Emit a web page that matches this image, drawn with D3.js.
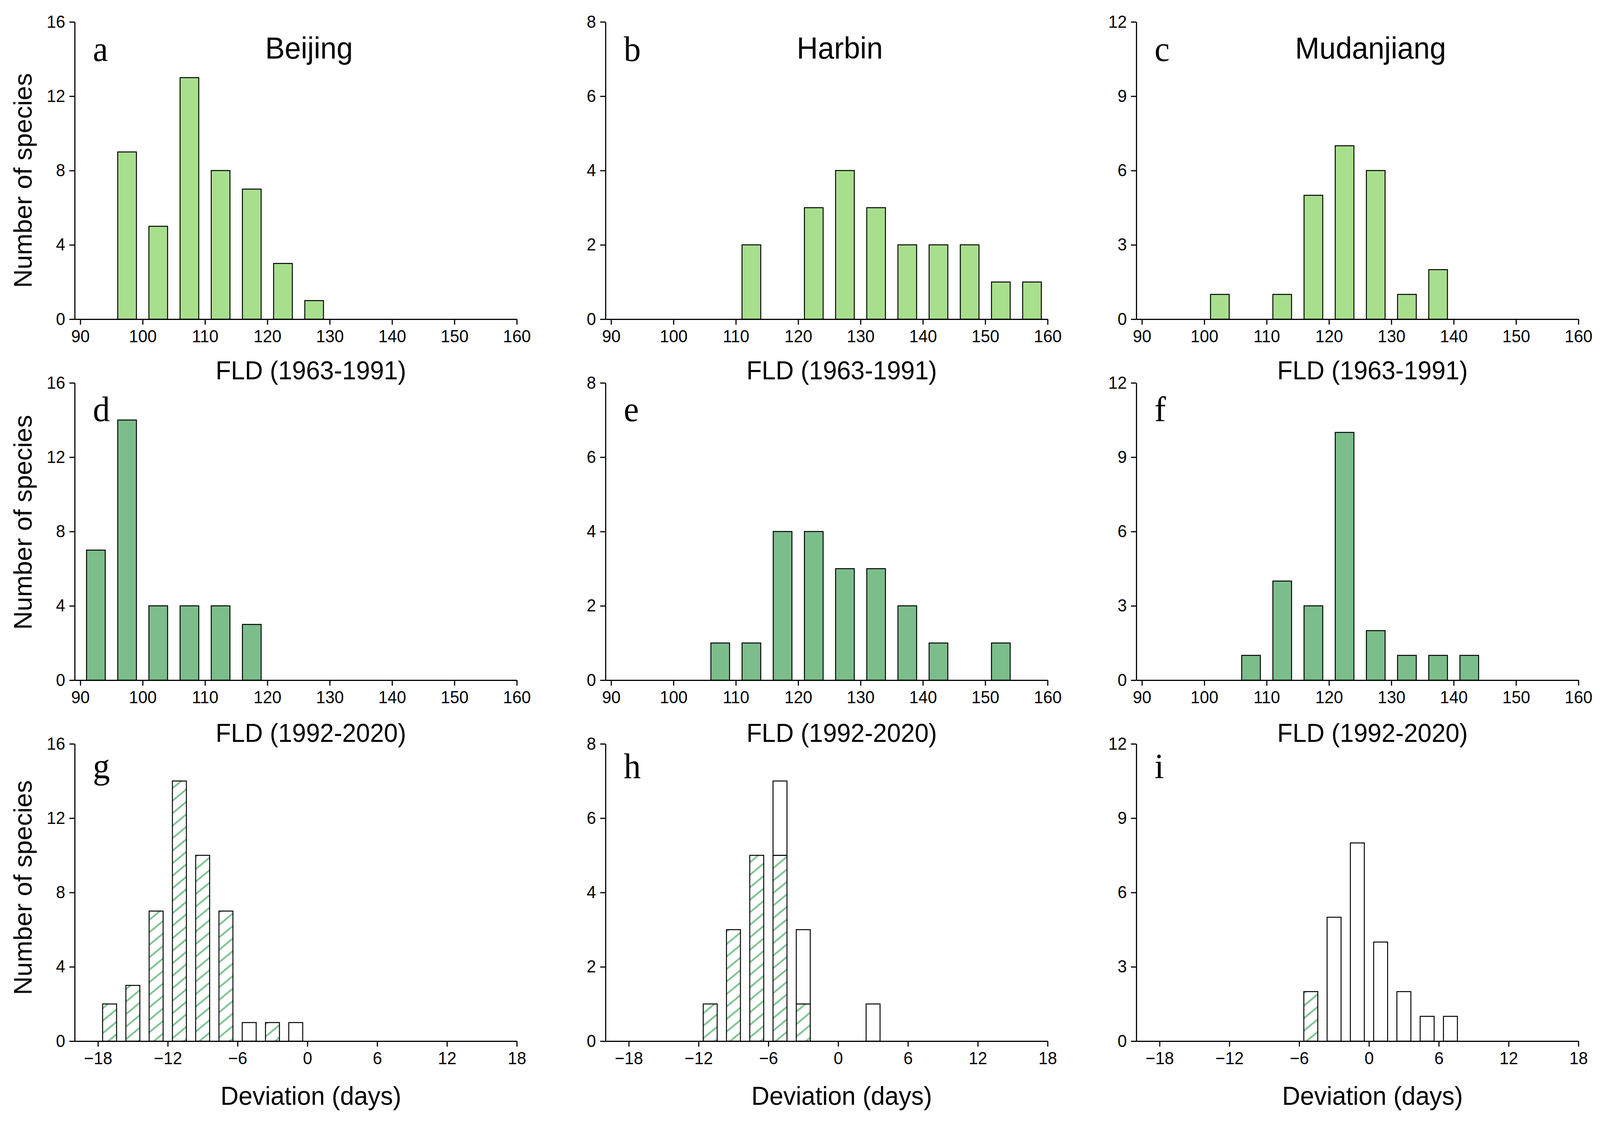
<!DOCTYPE html>
<html>
<head>
<meta charset="utf-8">
<script src="https://cdn.jsdelivr.net/npm/d3@7"></script>
<style>
  html, body { margin: 0; padding: 0; background: #fff; overflow: hidden; }
  #chart svg { display: block; }
  text { font-family: "Liberation Sans", Arial, sans-serif; fill: #000; }
  .letter { font-family: "Liberation Serif", "Times New Roman", serif; }
  .domain, .tick line { stroke: #000; stroke-width: 3; }
</style>
</head>
<body>
<div id="chart"></div>
<script>
// ---- data ----
var cities = ["Beijing", "Harbin", "Mudanjiang"];
var panelLetters = [["a", "b", "c"], ["d", "e", "f"], ["g", "h", "i"]];
var rowTitles = ["FLD (1963-1991)", "FLD (1992-2020)", "Deviation (days)"];

var fldTicks = [90, 100, 110, 120, 130, 140, 150, 160];
var devTicks = [-18, -12, -6, 0, 6, 12, 18];
var yTicks = [[0, 4, 8, 12, 16], [0, 2, 4, 6, 8], [0, 3, 6, 9, 12]];

// lower edges of the 5-day FLD bins
var fldBins = [90, 95, 100, 105, 110, 115, 120, 125, 130, 135, 140, 145, 150, 155];
// lower edges of the 2-day deviation bins
var devBins = [-18, -16, -14, -12, -10, -8, -6, -4, -2, 0, 2, 4, 6, 8, 10, 12, 14, 16];

// FLD 1963-1991
var early = [
    [0, 9, 5, 13, 8, 7, 3, 1, 0, 0, 0, 0, 0, 0],   // Beijing
    [0, 0, 0, 0, 2, 0, 3, 4, 3, 2, 2, 2, 1, 1],    // Harbin
    [0, 0, 1, 0, 1, 5, 7, 6, 1, 2, 0, 0, 0, 0]     // Mudanjiang
];
// FLD 1992-2020
var late = [
    [7, 14, 4, 4, 4, 3, 0, 0, 0, 0, 0, 0, 0, 0],
    [0, 0, 0, 1, 1, 4, 4, 3, 3, 2, 1, 0, 1, 0],
    [0, 0, 0, 1, 4, 3, 10, 2, 1, 1, 1, 0, 0, 0]
];
// deviation: significant (hatched) and non significant (white) counts
var devSig = [
    [2, 3, 7, 14, 10, 7, 0, 1, 0, 0, 0, 0, 0, 0, 0, 0, 0, 0],
    [0, 0, 0, 1, 3, 5, 5, 1, 0, 0, 0, 0, 0, 0, 0, 0, 0, 0],
    [0, 0, 0, 0, 0, 0, 2, 0, 0, 0, 0, 0, 0, 0, 0, 0, 0, 0]
];
var devNonSig = [
    [0, 0, 0, 0, 0, 0, 1, 0, 1, 0, 0, 0, 0, 0, 0, 0, 0, 0],
    [0, 0, 0, 0, 0, 0, 2, 2, 0, 0, 1, 0, 0, 0, 0, 0, 0, 0],
    [0, 0, 0, 0, 0, 0, 0, 5, 8, 4, 2, 1, 1, 0, 0, 0, 0, 0]
];

// ---- layout ----
var svgWidth = 4220, svgHeight = 2872;
var colX = [197, 1597, 2997];
var rowTop = [56, 980, 1904];
var plotW = 1166, plotH = 761;
var yLabelCenter = [462, 1337, 2272];
var letterDy = [100, 98, 88];
var xTitleDy = [154, 158, 163];

var lightGreen = "#a8df8d";
var darkGreen = "#7bbe8b";
var hatchGreen = "#7dc492";

// fill the whole window, whatever its css size is
var svg = d3.select("#chart")
    .append("svg")
    .attr("viewBox", `0 0 ${svgWidth} ${svgHeight}`)
    .attr("preserveAspectRatio", "none")
    .style("width", "100vw")
    .style("height", "100vh");

svg.append("rect").attr("width", svgWidth).attr("height", svgHeight).attr("fill", "#fff");

// hatch pattern for significant deviations
var pat = svg.append("defs").append("pattern")
    .attr("id", "hatch")
    .attr("patternUnits", "userSpaceOnUse")
    .attr("width", 40)
    .attr("height", 32);
pat.append("rect").attr("width", 40).attr("height", 32).attr("fill", "#fff");
pat.append("path")
    .attr("d", "M0,32L40,0M-10,8L10,-8M30,40L50,24")
    .attr("stroke", hatchGreen)
    .attr("stroke-width", 4.5);

function drawPanel(row, col) {
    var g = svg.append("g")
        .attr("transform", `translate(${colX[col]}, ${rowTop[row]})`);

    var isDev = row === 2;
    var xScale = d3.scaleLinear()
        .domain(isDev ? [-20, 18] : [89.1, 160])
        .range([0, plotW]);
    var yMax = yTicks[col][yTicks[col].length - 1];
    var yScale = d3.scaleLinear()
        .domain([0, yMax])
        .range([plotH, 0]);

    var binW = isDev ? 2 : 5;
    var bins = isDev ? devBins : fldBins;

    function addBars(counts, base, fill) {
        var rows = bins.map(function(b, i) {
            return { start: b, y0: base ? base[i] : 0, n: counts[i] };
        }).filter(d => d.n > 0);

        g.append("g")
            .selectAll("rect")
            .data(rows)
            .enter()
            .append("rect")
            .attr("x", d => xScale(d.start + binW * 0.2))
            .attr("width", d => xScale(d.start + binW * 0.8) - xScale(d.start + binW * 0.2))
            .attr("y", d => yScale(d.y0 + d.n))
            .attr("height", d => yScale(d.y0) - yScale(d.y0 + d.n))
            .attr("fill", fill)
            .attr("stroke", "#000")
            .attr("stroke-width", 2.5);
    }

    if (row === 0) addBars(early[col], null, lightGreen);
    if (row === 1) addBars(late[col], null, darkGreen);
    if (isDev) {
        addBars(devSig[col], null, "url(#hatch)");
        addBars(devNonSig[col], devSig[col], "#fff");
    }

    // axes
    var bottomAxis = d3.axisBottom(xScale)
        .tickValues(isDev ? devTicks : fldTicks)
        .tickSize(14)
        .tickSizeOuter(0)
        .tickPadding(14);
    var leftAxis = d3.axisLeft(yScale)
        .tickValues(yTicks[col])
        .tickSize(14)
        .tickSizeOuter(0)
        .tickPadding(11);

    g.append("g")
        .attr("transform", `translate(0, ${plotH})`)
        .call(bottomAxis)
        .selectAll("text")
        .attr("font-size", 44)
        .attr("font-family", "Liberation Sans, Arial, sans-serif");

    g.append("g")
        .call(leftAxis)
        .selectAll("text")
        .attr("font-size", 44)
        .attr("font-family", "Liberation Sans, Arial, sans-serif");

    // panel letter
    g.append("text")
        .attr("class", "letter")
        .attr("x", 48)
        .attr("y", letterDy[row])
        .attr("font-size", 90)
        .text(panelLetters[row][col]);

    // city title on the top row
    if (row === 0) {
        g.append("text")
            .attr("x", 618)
            .attr("y", 150 - rowTop[0])
            .attr("text-anchor", "middle")
            .attr("font-size", 77)
            .text(cities[col]);
    }

    // x axis title
    g.append("text")
        .attr("x", 623)
        .attr("y", plotH + xTitleDy[row])
        .attr("text-anchor", "middle")
        .attr("font-size", 66)
        .text(rowTitles[row]);
}

for (var r = 0; r < 3; r++) {
    for (var c = 0; c < 3; c++) {
        drawPanel(r, c);
    }
    svg.append("text")
        .attr("transform", `translate(83, ${yLabelCenter[r]}) rotate(-90)`)
        .attr("text-anchor", "middle")
        .attr("font-size", 66)
        .text("Number of species");
}
</script>
</body>
</html>
